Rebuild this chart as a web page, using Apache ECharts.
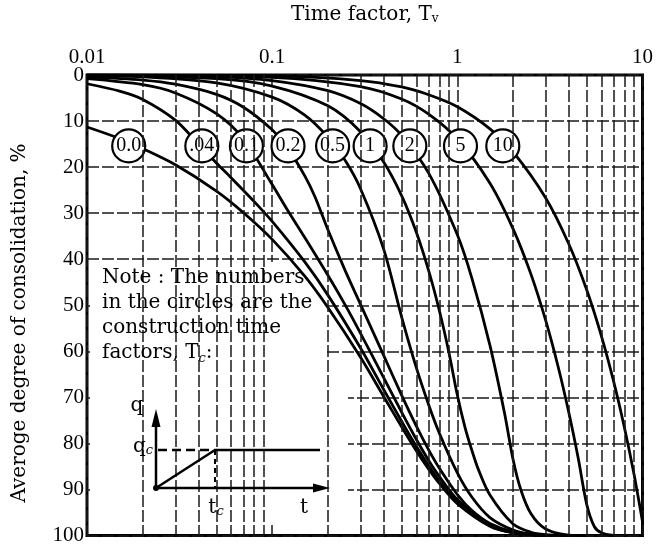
<!DOCTYPE html>
<html><head><meta charset="utf-8">
<script src="https://cdn.jsdelivr.net/npm/echarts/dist/echarts.min.js"></script>
<style>html,body{margin:0;padding:0;background:#fff}#c{width:656px;height:546px}</style>
</head><body><div id="c"></div>
<script>
// ---- tick values / labels ----
const xTickValues = [0.01, 0.1, 1, 10];
const xTickLabels = ['0.01', '0.1', '1', '10'];
const minorGridT = [0.02,0.03,0.04,0.05,0.06,0.07,0.08,0.09,
                    0.2,0.3,0.4,0.5,0.6,0.7,0.8,0.9,
                    2,3,4,5,6,7,8,9];

// ---- curves: [time factor Tv, average degree of consolidation %] ----
const tc00 = [[0.01,11.3],[0.015,13.8],[0.02,16.0],[0.03,19.5],[0.05,25.2],[0.07,29.9],[0.1,35.7],[0.15,43.7],[0.2,50.5],[0.3,61.3],[0.4,69.8],[0.5,76.4],[0.6,81.6],[0.7,85.6],[0.8,88.7],[1.0,93.1],[1.5,98.0],[2,99.4],[3,100]];
const tc004 = [[0.01,1.9],[0.015,3.5],[0.02,5.3],[0.03,9.8],[0.04,15.0],[0.05,19.1],[0.06,22.3],[0.08,27.5],[0.1,31.8],[0.15,40.6],[0.2,47.8],[0.3,59.3],[0.4,68.3],[0.5,75.2],[0.6,80.6],[0.8,88.2],[1.0,92.8],[1.5,97.9],[2,99.4],[3,100]];
const tc01 = [[0.01,0.8],[0.02,2.1],[0.03,3.9],[0.05,8.4],[0.07,13.9],[0.1,23.8],[0.12,29.1],[0.15,35.3],[0.2,43.5],[0.25,50.2],[0.3,56.1],[0.4,65.7],[0.5,73.2],[0.6,79.1],[0.7,83.7],[0.8,87.2],[1.0,92.2],[1.5,97.7],[2,99.4],[3,100]];
const tc02 = [[0.01,0.4],[0.02,1.1],[0.03,2.0],[0.05,4.2],[0.07,7.0],[0.1,11.9],[0.12,15.6],[0.15,21.9],[0.17,26.4],[0.2,33.6],[0.25,42.8],[0.3,49.8],[0.4,60.9],[0.5,69.5],[0.6,76.2],[0.7,81.4],[0.8,85.4],[1.0,91.1],[1.2,94.6],[1.5,97.4],[2,99.2],[3,100]];
const tc05 = [[0.01,0.2],[0.02,0.4],[0.05,1.7],[0.1,4.8],[0.15,8.7],[0.2,13.5],[0.25,18.8],[0.3,24.7],[0.4,37.8],[0.5,52.5],[0.6,63.5],[0.7,71.6],[0.8,77.8],[1.0,86.4],[1.2,91.7],[1.5,96.1],[2,98.8],[2.5,99.7],[3,100]];
const tc1 = [[0.01,0.1],[0.05,0.8],[0.1,2.4],[0.2,6.7],[0.3,12.3],[0.4,18.9],[0.5,26.2],[0.6,34.1],[0.7,42.5],[0.8,51.2],[0.9,60.2],[1.0,69.5],[1.1,76.5],[1.2,81.6],[1.3,85.7],[1.5,91.2],[2,97.5],[2.5,99.3],[3,99.8],[4,100]];
const tc2 = [[0.01,0],[0.05,0.4],[0.1,1.2],[0.2,3.4],[0.3,6.2],[0.4,9.5],[0.5,13.1],[0.7,21.3],[1.0,34.7],[1.2,44.2],[1.5,58.7],[1.8,73.5],[2.0,83.5],[2.2,90.0],[2.5,95.3],[3,98.6],[4,99.9],[5,100]];
const tc5 = [[0.01,0],[0.1,0.5],[0.3,2.5],[0.5,5.2],[0.7,8.5],[1.0,13.9],[1.5,23.5],[2,33.4],[2.5,43.3],[3,53.3],[3.5,63.3],[4,73.3],[4.5,83.3],[5,93.3],[5.5,98.1],[6,99.4],[7,100]];
const tc10 = [[0.01,0],[0.1,0.2],[0.3,1.2],[0.5,2.6],[0.7,4.3],[1.0,6.9],[1.5,11.7],[2,16.7],[3,26.7],[4,36.7],[5,46.7],[6,56.7],[7,66.7],[8,76.7],[9,86.7],[10,97.0]];

// ---- circle labels (construction time factors) ----
const tcLabels = ['0.0', '.04', '0.1', '0.2', '0.5', '1', '2', '5', '10'];
const circleT = [0.0168, 0.0417, 0.0726, 0.1218, 0.212, 0.338, 0.554, 1.04, 1.76];
const circleU = [15.4, 15.4, 15.4, 15.4, 15.4, 15.4, 15.4, 15.4, 15.4];

const curves = [tc00, tc004, tc01, tc02, tc05, tc1, tc2, tc5, tc10];

const SERIF = 'DejaVu Serif';
const NUMF = 'Liberation Serif';
const gridStyle = { color: '#1a1a1a', width: 1.5, type: [12, 3] };

const chart = echarts.init(document.getElementById('c'), null, { renderer: 'canvas' });

const series = [];
series.push({
  type: 'line', data: [], z: 0, silent: true,
  markLine: {
    silent: true, symbol: ['none', 'none'], label: { show: false },
    lineStyle: gridStyle, animation: false,
    data: minorGridT.map(v => ({ xAxis: v }))
  }
});
curves.forEach((d, i) => {
  series.push({
    type: 'line', name: tcLabels[i], data: d, z: 2,
    smooth: 0.3, symbol: 'none', showSymbol: false,
    lineStyle: { color: '#000', width: 2.8 }, clip: true, silent: true
  });
});
series.push({
  type: 'scatter', z: 4, silent: true,
  data: circleT.map((t, i) => [t, circleU[i]]),
  symbol: 'circle', symbolSize: 33,
  itemStyle: { color: '#fff', borderColor: '#000', borderWidth: 2.2, opacity: 1 },
  label: {
    show: true, position: 'inside', color: '#000',
    fontFamily: NUMF, fontSize: 20,
    formatter: p => tcLabels[p.dataIndex]
  }
});

const ink = { stroke: '#000', lineWidth: 2.5 };
const txt = (x, y, text, extra) => ({
  type: 'text', x, y, z: 6, silent: true,
  style: Object.assign({
    text, fill: '#000', fontFamily: SERIF, fontSize: 20,
    textAlign: 'center', textVerticalAlign: 'middle', verticalAlign: 'middle',
    rich: { s: { fontSize: 13, fontStyle: 'italic', fontFamily: SERIF, lineHeight: 16, verticalAlign: 'bottom' } }
  }, extra || {})
});

const option = {
  animation: false,
  backgroundColor: '#fff',
  grid: { left: 87, right: 8, top: 70, bottom: 8, show: true, borderColor: '#000', borderWidth: 3, containLabel: false },
  xAxis: {
    type: 'log', logBase: 10, min: 0.01, max: 10, position: 'top',
    name: 'Time factor, T{s|v}', nameLocation: 'middle', nameGap: 50,
    nameTextStyle: { fontFamily: SERIF, fontSize: 20, color: '#000',
      rich: { s: { fontSize: 12, fontFamily: SERIF, lineHeight: 16, verticalAlign: 'bottom' } } },
    axisLine: { show: false }, axisTick: { show: false },
    axisLabel: {
      fontFamily: NUMF, fontSize: 21, color: '#000', margin: 7,
      formatter: v => {
        const i = xTickValues.findIndex(t => Math.abs(Math.log10(v / t)) < 1e-6);
        return i >= 0 ? xTickLabels[i] : '';
      }
    },
    splitLine: { show: true, lineStyle: gridStyle },
    minorTick: { show: false }
  },
  yAxis: {
    type: 'value', inverse: true, min: 0, max: 100, interval: 10,
    axisLine: { show: false }, axisTick: { show: false },
    axisLabel: { fontFamily: NUMF, fontSize: 21, color: '#000', margin: 3 },
    splitLine: { show: true, lineStyle: gridStyle }
  },
  series,
  graphic: [
    { type: 'polygon', z: 1, silent: true,
      shape: { points: [[90,262],[300,262],[300,290],[326,290],[326,362],[348,362],[348,524],[90,524]] },
      style: { fill: '#fff' } },
    txt(20, 323, 'Averoge degree of consolidation, %', {}),
    Object.assign(txt(102, 265, 'Note : The numbers\nin the circles are the\nconstruction time\nfactors, T{s|c}:', {
      textAlign: 'left', textVerticalAlign: 'top', verticalAlign: 'top', lineHeight: 25
    })),
    // inset diagram
    { type: 'line', z: 6, silent: true, shape: { x1: 156, y1: 489, x2: 156, y2: 424 }, style: ink },
    { type: 'polygon', z: 6, silent: true, shape: { points: [[156,409],[151.5,427],[160.5,427]] }, style: { fill: '#000' } },
    { type: 'line', z: 6, silent: true, shape: { x1: 155, y1: 488, x2: 316, y2: 488 }, style: ink },
    { type: 'polygon', z: 6, silent: true, shape: { points: [[330,488],[313,483.5],[313,492.5]] }, style: { fill: '#000' } },
    { type: 'line', z: 6, silent: true, shape: { x1: 156, y1: 488, x2: 215, y2: 450 }, style: ink },
    { type: 'line', z: 6, silent: true, shape: { x1: 158, y1: 450, x2: 215, y2: 450 }, style: { stroke: '#000', lineWidth: 2.5, lineDash: [9, 5] } },
    { type: 'line', z: 6, silent: true, shape: { x1: 215, y1: 450, x2: 320, y2: 450 }, style: ink },
    { type: 'line', z: 6, silent: true, shape: { x1: 215, y1: 450, x2: 215, y2: 488 }, style: { stroke: '#000', lineWidth: 2, lineDash: [5, 4] } },
    { type: 'circle', z: 6, silent: true, shape: { cx: 156, cy: 488, r: 3 }, style: { fill: '#000' } },
    txt(137, 406, 'q', {}),
    txt(143, 447, 'q{s|c}', {}),
    txt(216, 508, 't{s|c}', {}),
    txt(304, 508, 't', {})
  ]
};
option.graphic[1].rotation = Math.PI / 2;
chart.setOption(option);
</script>
</body></html>
